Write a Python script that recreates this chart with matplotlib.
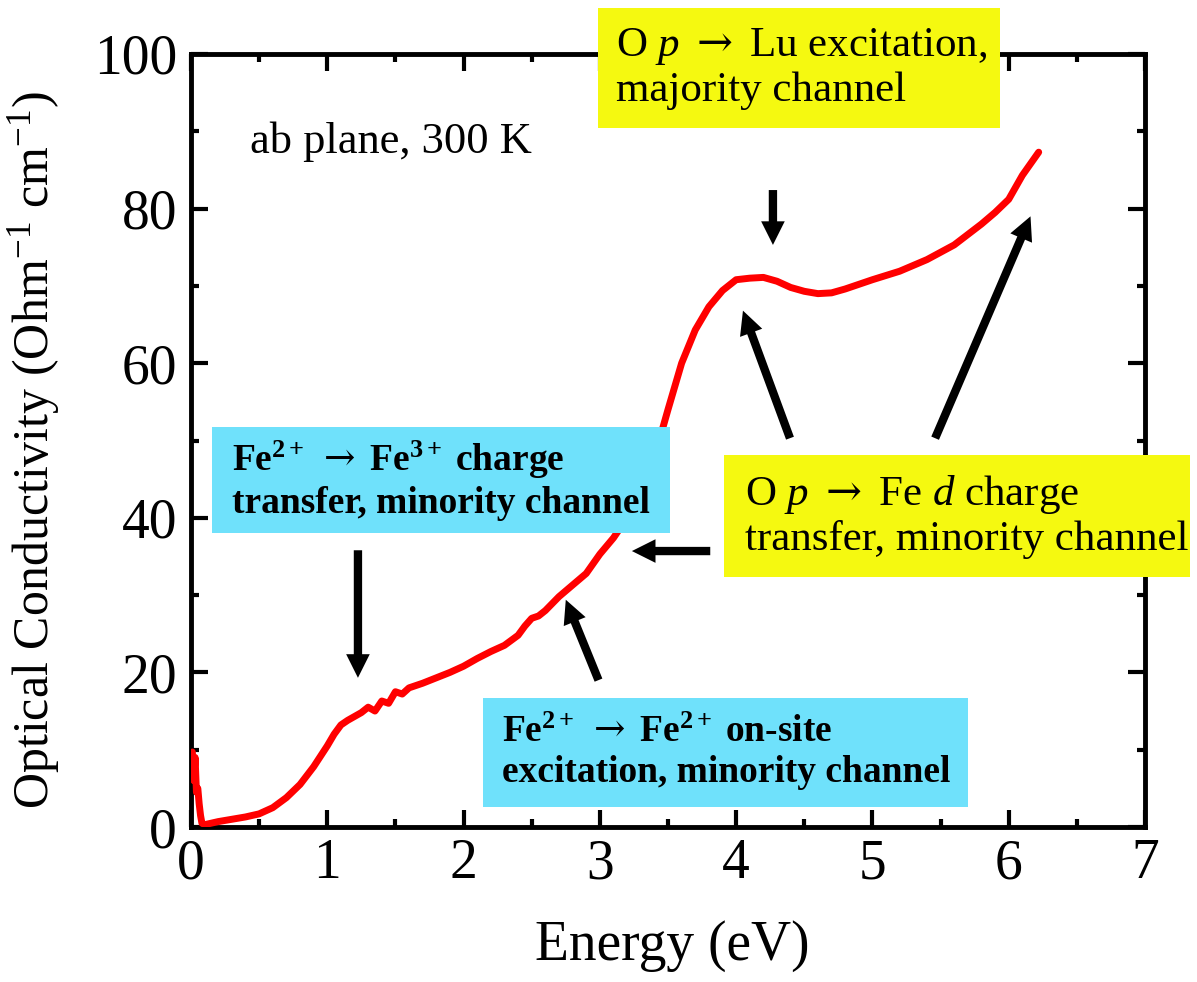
import matplotlib
matplotlib.use("Agg")
import matplotlib.pyplot as plt
from matplotlib.patches import Rectangle, FancyArrowPatch

plt.rcParams["font.family"] = ["Liberation Serif", "DejaVu Serif"]
plt.rcParams["mathtext.fontset"] = "custom"
plt.rcParams["mathtext.rm"] = "DejaVu Serif"
plt.rcParams["mathtext.sf"] = "Liberation Serif"
plt.rcParams["mathtext.it"] = "Liberation Serif:italic"
plt.rcParams["mathtext.bf"] = "Liberation Serif:bold"

# Optical conductivity spectrum, ab plane, 300 K
energy = [0.01, 0.02, 0.03, 0.04, 0.05, 0.06, 0.07, 0.08, 0.10, 0.15, 0.2, 0.3,
          0.4, 0.5, 0.6, 0.7, 0.8, 0.9, 1.0, 1.05, 1.1, 1.15, 1.2, 1.25, 1.3,
          1.35, 1.4, 1.45, 1.5, 1.55, 1.6, 1.7, 1.8, 1.9, 2.0, 2.1, 2.2, 2.3,
          2.4, 2.45, 2.5, 2.55, 2.6, 2.7, 2.8, 2.9, 3.0, 3.1, 3.2, 3.3, 3.4,
          3.5, 3.6, 3.7, 3.8, 3.9, 4.0, 4.1, 4.2, 4.3, 4.4, 4.5, 4.6, 4.7,
          4.8, 4.9, 5.0, 5.2, 5.4, 5.6, 5.8, 5.9, 6.0, 6.1, 6.22]
sigma = [9.7, 6.0, 9.0, 4.5, 5.0, 3.0, 1.5, 0.5, 0.3, 0.5, 0.7, 1.0,
         1.3, 1.7, 2.5, 3.8, 5.5, 7.8, 10.5, 12.0, 13.2, 13.8, 14.3, 14.8, 15.5,
         15.0, 16.3, 16.0, 17.5, 17.2, 18.0, 18.6, 19.3, 20.0, 20.8, 21.8, 22.7, 23.5,
         24.8, 26.0, 27.0, 27.3, 28.0, 29.8, 31.3, 32.8, 35.3, 37.4, 40.0, 43.2, 47.8,
         54.0, 60.0, 64.3, 67.3, 69.4, 70.8, 71.0, 71.1, 70.6, 69.8, 69.3, 69.0, 69.1,
         69.6, 70.2, 70.8, 71.9, 73.4, 75.3, 78.0, 79.5, 81.2, 84.3, 87.3]

xticks = [0, 1, 2, 3, 4, 5, 6, 7]
yticks = [0, 20, 40, 60, 80, 100]

# Annotation arrows: (tail, head) in data units
arrows = [
    ((1.225, 35.8), (1.225, 19.3)),
    ((4.27, 82.4), (4.27, 75.3)),
    ((4.395, 50.3), (4.05, 66.8)),
    ((5.46, 50.3), (6.16, 79.0)),
    ((3.81, 35.7), (3.235, 35.7)),
    ((2.99, 19.0), (2.75, 29.4)),
]

W, H = 1197, 982
fig = plt.figure(figsize=(W / 100, H / 100), dpi=100)
ax = fig.add_axes([191 / W, 1 - 827 / H, 954 / W, 773 / H])

ax.plot(energy, sigma, color="#ff0000", lw=5, solid_capstyle="round",
        solid_joinstyle="round", zorder=3)

ax.set_xlim(0, 7)
ax.set_ylim(0, 100)
ax.set_xticks(xticks)
ax.set_yticks(yticks)
ax.set_xticks([0.5 + i for i in range(7)], minor=True)
ax.set_yticks([10 + 20 * i for i in range(5)], minor=True)
ax.tick_params(which="both", direction="in", top=True, right=True, width=3,
               labelsize=40)
ax.tick_params(which="major", length=12)
ax.tick_params(which="minor", length=6)
ax.tick_params(axis="x", pad=8)
ax.tick_params(axis="y", pad=10)
for s in ax.spines.values():
    s.set_linewidth(3.5)

ax.set_xlabel("Energy (eV)", fontsize=40)
ax.xaxis.set_label_coords(0.505, -0.12)
ax.set_ylabel("Optical Conductivity (Ohm$^{\\mathsf{-1}}$ cm$^{\\mathsf{-1}}$)",
              fontsize=36)
ax.yaxis.set_label_coords(-0.135, 0.488)

ax.text(0.43, 87.2, "ab plane, 300 K", fontsize=32, ha="left", va="baseline")

for (x0, y0), (x1, y1) in arrows:
    ax.add_patch(FancyArrowPatch(
        (x0, y0), (x1, y1),
        arrowstyle="simple,head_length=0.85,head_width=0.85,tail_width=0.3",
        mutation_scale=20, color="black", lw=0, shrinkA=0, shrinkB=0,
        zorder=4, clip_on=False))


def box(x0, y0, x1, y1, color, tx, text, size, weight="normal", ls=1.15):
    fig.patches.append(Rectangle((x0 / W, 1 - y1 / H), (x1 - x0) / W, (y1 - y0) / H,
                                 transform=fig.transFigure, facecolor=color,
                                 edgecolor="none", zorder=5))
    fig.text(tx / W, 1 - (y0 + y1) / 2 / H, text, fontsize=size, weight=weight,
             ha="left", va="center", linespacing=ls, zorder=6)


yellow = "#f5f910"
cyan = "#6fe1fb"
box(598, 8, 1000, 128, yellow, 616,
    "O $\\mathit{p}$ $\\rightarrow$ Lu excitation,\nmajority channel", 31)
box(724, 455, 1190, 577, yellow, 745,
    "O $\\mathit{p}$ $\\rightarrow$ Fe $\\mathit{d}$ charge\ntransfer, minority channel", 31)
box(212, 427, 670, 533, cyan, 232,
    "Fe$^{\\mathbf{2+}}$ $\\rightarrow$ Fe$^{\\mathbf{3+}}$ charge\ntransfer, minority channel",
    27, weight="bold", ls=1.2)
box(483, 698, 968, 807, cyan, 502,
    "Fe$^{\\mathbf{2+}}$ $\\rightarrow$ Fe$^{\\mathbf{2+}}$ on-site\nexcitation, minority channel",
    27, weight="bold", ls=1.2)

fig.savefig("out.png", dpi=100)
